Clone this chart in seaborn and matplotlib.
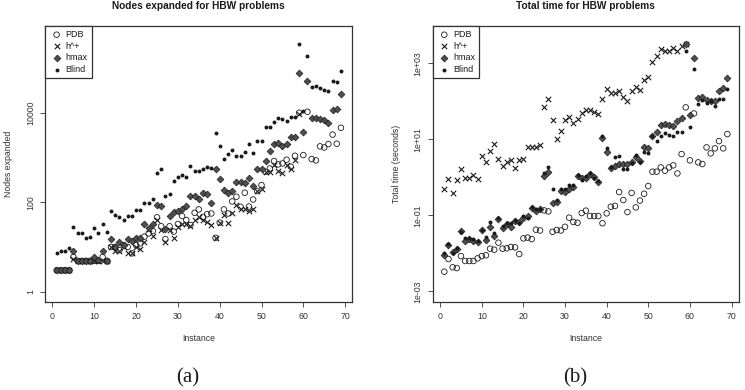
import numpy as np
import matplotlib
matplotlib.use('Agg')
import matplotlib.pyplot as plt
from matplotlib.ticker import NullLocator
import seaborn as sns

instance = list(range(1, 70))
nan = np.nan

# (a) nodes expanded
nodes_pdb = [3, 3, 3, 3, 6, 4.9, 4.9, 4.9, 4.9, 4.9,
             4.9, 6, 4.9, 10, 10, 8.5, 11, 10, 7.2, 11,
             12, 17, 20, 22.7, 46, 29, 15, 29, 22, 32.5,
             49, 40, 31, 58, 69, 47, 54, 56, 16, 35,
             69, 56, 104, 133, 79, 163, 80, 115, 177, 241,
             478, 568, 829, 700, 735, 890, 620, 1090, 10000, 1130,
             10500, 920, 860, 1770, 1670, 1990, 3240, 2030, 4600]
nodes_hplus = [3, 3, 3, 3, 5.3, 4.9, 4.9, 4.9, 4.9, 4.9,
               4.9, 4.9, 4.9, 10, 8.2, 8.2, 10, 7.2, 7.2, 10,
               9.1, 13, 24.7, 17.5, 40, 24, 13, 24, 16, 28,
               32.5, 32.5, 29, 40, 47, 40, 36.7, 30.7, 16, 35,
               51, 35, 56, 86, 69, 69, 63, 70, 177, 194,
               478, 478, 680, 495, 455, 680, 540, 870, 9500, nan,
               nan, nan, nan, nan, nan, nan, nan, nan, nan]
nodes_hmax = [3, 3, 3, 3, 8.2, 4.9, 4.9, 4.9, 4.9, 6,
              5.2, 8.2, 4.9, 15.3, 10, 12.6, 11, 15, 13.8, 16,
              16, 32, 26, 32, 85, 81, 24.7, 49, 61, 62,
              70, 81, 139, 139, 117, 163, 149, 97, 540, 323,
              187, 157, 180, 287, 287, 272, 340, 230, 540, 540,
              829, 1414, 1960, 2130, 1820, 1990, 2800, 2900, 78000, 3750,
              50800, 7450, 7450, 7190, 6840, 5960, 11400, 12200, 25600]
nodes_blind = [7.2, 8.1, 8.1, 9.3, 28, 20, 20, 16, 17, 26,
               20, 33, 22, 64, 52, 46, 41, 49, 49, 68,
               68, 96, 96, 117, 440, 550, 139, 155, 300, 358,
               396, 358, 653, 505, 497, 550, 599, 569, 3500, 1795,
               904, 1170, 1460, 1073, 1073, 1340, 1960, 1273, 2320, 2320,
               4770, 4770, 6270, 7700, 7190, 6380, 7950, 7950, 347000, 10800,
               184000, 36700, 39300, 34800, 32000, 30900, 51700, 48200, 85000]

# (b) total time in seconds
time_pdb = [0.0033, 0.0071, 0.0043, 0.0041, 0.0085, 0.0063, 0.0063, 0.0063, 0.0074, 0.0085,
            0.0089, 0.0133, 0.0125, 0.0191, 0.0133, 0.0136, 0.0147, 0.0144, 0.0096, 0.0248,
            0.026, 0.0238, 0.042, 0.040, 0.135, 0.127, 0.037, 0.041, 0.040, 0.050,
            0.087, 0.067, 0.064, 0.115, 0.133, 0.096, 0.096, 0.096, 0.062, 0.113,
            0.169, 0.177, 0.41, 0.254, 0.122, 0.39, 0.162, 0.245, 0.37, 0.59,
            1.41, 1.41, 1.83, 1.5, 1.83, 2.07, 1.27, 4.1, 69.5, 2.8,
            48, 2.48, 2.24, 6.15, 4.28, 5.8, 9.0, 5.8, 13.8]
time_hplus = [0.48, 0.92, 0.39, 0.87, 1.69, 0.98, 0.98, 1.15, 0.90, 3.64,
              2.58, 5.0, 7.5, 2.98, 2.03, 2.48, 2.8, 1.8, 2.8, 3.1,
              6.15, 6.4, 6.15, 6.95, 72, 113, 32, 10.4, 16.6, 31.6,
              39.5, 26.3, 35, 48, 59, 59, 53.5, 46, 113, 211,
              162, 162, 191, 133, 102, 191, 233, 199, 364, 428,
              1062, 1590, 2430, 2110, 2110, 2480, 2150, 2920, 3300, nan,
              nan, nan, nan, nan, nan, nan, nan, nan, nan]
time_hmax = [0.009, 0.017, 0.011, 0.013, 0.039, 0.0215, 0.0235, 0.0215, 0.020, 0.040,
             0.022, 0.048, 0.029, 0.0785, 0.0455, 0.058, 0.050, 0.071, 0.068, 0.087,
             0.096, 0.159, 0.133, 0.145, 1.1, 1.41, 0.207, 0.23, 0.436, 0.42,
             0.48, 0.56, 1.08, 0.95, 0.98, 1.2, 1.02, 0.75, 10.6, 4.7,
             1.8, 2.03, 2.24, 2.2, 2.2, 2.58, 3.5, 2.7, 6.4, 6.0,
             12.2, 15.9, 23.8, 25.3, 23.8, 22.3, 31, 35.7, 3300, 43.7,
             1410, 125, 128, 108, 105, 102, 191, 220, 420]
time_blind = [0.010, 0.018, 0.010, 0.0135, 0.037, 0.026, 0.026, 0.0235, 0.0215, 0.042,
              0.027, 0.068, 0.034, 0.083, 0.052, 0.064, 0.062, 0.075, 0.064, 0.096,
              0.083, 0.17, 0.145, 0.145, 1.27, 1.83, 0.48, 0.254, 0.48, 0.48,
              0.63, 0.63, 1.15, 0.86, 1.08, 1.27, 0.95, 0.78, 12.2, 5.8,
              1.87, 3.5, 3.7, 1.69, 1.69, 2.34, 3.9, 2.58, 4.7, 4.4,
              12.2, 9.2, 12.2, 14.4, 13.2, 12.5, 15.6, 15.3, 2110, 20.7,
              695, 85, 108, 92, 102, 75, 113, 113, 207]

sns.set_style('ticks')
plt.rcParams['font.family'] = ['Liberation Sans', 'DejaVu Sans']

ink = '#1a1a1a'


def draw_panel(ax, pdb, hplus, hmax, blind, title, ylabel, yticks, yticklabels, ylim):
    sns.scatterplot(x=instance, y=pdb, ax=ax, marker='o', s=16, color=ink,
                    linewidth=0.6, label='PDB')
    ax.collections[-1].set_facecolor('none')
    ax.collections[-1].set_edgecolor(ink)
    sns.scatterplot(x=instance, y=hplus, ax=ax, marker='x', s=15, color=ink,
                    linewidth=0.8, label='h^+')
    sns.scatterplot(x=instance, y=hmax, ax=ax, marker='D', s=12, color='#4f4f4f',
                    edgecolor='#1a1a1a', linewidth=0.5, label='hmax')
    sns.scatterplot(x=instance, y=blind, ax=ax, marker='o', s=8, color=ink,
                    linewidth=0, label='Blind')

    ax.set_yscale('log')
    ax.set_xlim(-1.72, 71.72)
    ax.set_ylim(*ylim)
    ax.set_xticks(range(0, 71, 10))
    ax.set_yticks(yticks)
    ax.set_yticklabels(yticklabels, rotation=90, va='center')
    ax.yaxis.set_minor_locator(NullLocator())
    ax.tick_params(axis='both', direction='out', length=3.5, width=0.6,
                   labelsize=6.3, colors='#333333', pad=4)
    for sp in ax.spines.values():
        sp.set_visible(True)
        sp.set_linewidth(0.9)
        sp.set_color('#333333')
    ax.set_title(title, fontsize=7.3, fontweight='bold', pad=12, color=ink)
    ax.set_xlabel('Instance', fontsize=6.3, color='#333333', labelpad=9)
    ax.set_ylabel(ylabel, fontsize=6.3, color='#333333', labelpad=9)
    leg = ax.legend(loc='upper left', borderaxespad=0, fontsize=6.5, frameon=True,
                    fancybox=False, edgecolor='#333333', framealpha=1,
                    handletextpad=0.2, labelspacing=0.3, borderpad=0.45,
                    handlelength=1.6, scatterpoints=1)
    leg.get_frame().set_linewidth(0.9)
    for t in leg.get_texts():
        t.set_color(ink)


fig = plt.figure(figsize=(7.45, 3.9), dpi=100)
ax_a = fig.add_axes([0.0608, 0.2264, 0.4121, 0.7069])
ax_b = fig.add_axes([0.5812, 0.2264, 0.4103, 0.7069])

draw_panel(ax_a, nodes_pdb, nodes_hplus, nodes_hmax, nodes_blind,
           'Nodes expanded for HBW problems', 'Nodes expanded',
           [1, 100, 10000], ['1', '100', '10000'], (0.598, 865000))
draw_panel(ax_b, time_pdb, time_hplus, time_hmax, time_blind,
           'Total time for HBW problems', 'Total time (seconds)',
           [1e-3, 1e-1, 1e1, 1e3], ['1e-03', '1e-01', '1e+01', '1e+03'],
           (5.35e-4, 9600))

fig.text(0.2523, 0.031, '(a)', family='Liberation Serif', fontsize=15, ha='center', va='center', color=ink)
fig.text(0.772, 0.031, '(b)', family='Liberation Serif', fontsize=15, ha='center', va='center', color=ink)

fig.savefig('out.png', dpi=100)
